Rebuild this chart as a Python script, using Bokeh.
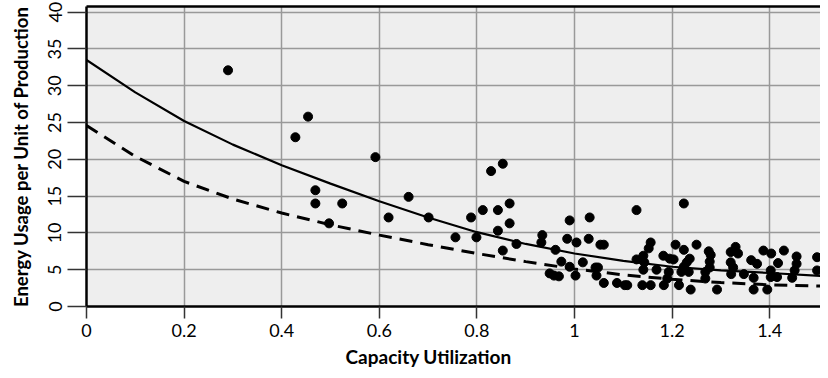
from bokeh.plotting import figure
from bokeh.models import Range1d, FixedTicker, LinearAxis, Title
from bokeh.embed import file_html
from bokeh.resources import INLINE

# Scatter observations (capacity utilization, energy usage per unit)
util = [0.290, 0.454, 0.428, 0.469, 0.469, 0.524, 0.497, 0.592, 0.660, 0.619,
        0.701, 0.756, 0.788, 0.799, 0.812, 0.829, 0.853, 0.843, 0.867, 0.843,
        0.867, 0.853, 0.881,
        0.990, 1.031, 0.934, 0.932, 0.985, 1.004, 1.029, 1.053, 1.060, 0.961,
        0.973, 0.990, 1.017, 1.043, 1.048, 0.949, 0.958, 0.968, 1.002, 1.045,
        1.060, 1.087, 1.103,
        1.127, 1.224, 1.156, 1.152, 1.141, 1.127, 1.143, 1.141, 1.168, 1.182,
        1.195, 1.203, 1.207, 1.224, 1.250, 1.236, 1.230, 1.224, 1.219, 1.234,
        1.193, 1.190, 1.108, 1.139, 1.156, 1.183, 1.214, 1.238, 1.275, 1.279,
        1.277, 1.277, 1.268, 1.268, 1.292,
        1.330, 1.320, 1.335, 1.320, 1.325, 1.321, 1.347, 1.362, 1.374, 1.387,
        1.403, 1.417, 1.402, 1.402, 1.415, 1.367, 1.367, 1.395, 1.429, 1.455,
        1.455, 1.451, 1.446, 1.497, 1.497]
energy = [32.1, 25.8, 23.0, 15.8, 14.0, 14.0, 11.3, 20.3, 14.9, 12.1,
          12.1, 9.4, 12.1, 9.4, 13.1, 18.4, 19.4, 13.1, 14.0, 10.3,
          11.3, 7.6, 8.5,
          11.7, 12.1, 9.7, 8.7, 9.2, 8.7, 9.2, 8.4, 8.4, 7.7,
          6.1, 5.4, 6.0, 5.3, 5.3, 4.5, 4.2, 4.1, 4.2, 4.2,
          3.2, 3.2, 2.9,
          13.1, 14.0, 8.7, 7.9, 6.9, 6.4, 6.0, 5.0, 5.0, 6.9,
          6.5, 6.4, 8.4, 7.7, 8.4, 6.5, 6.0, 5.4, 4.7, 4.7,
          4.7, 3.8, 2.9, 2.9, 2.9, 2.9, 2.9, 2.3, 7.5, 7.0,
          6.1, 5.3, 4.7, 3.8, 2.3,
          8.1, 7.4, 7.2, 6.0, 5.3, 4.4, 4.4, 6.3, 5.8, 7.6,
          7.2, 5.9, 4.9, 4.0, 4.0, 3.9, 2.3, 2.3, 7.6, 6.8,
          5.8, 4.9, 3.9, 6.7, 4.9]

# Fitted curves
curve_x = [0.0, 0.1, 0.2, 0.3, 0.4, 0.5, 0.6, 0.7, 0.8, 0.9, 1.0, 1.1, 1.2, 1.3, 1.4, 1.52]
solid_y = [33.5, 29.1, 25.2, 22.0, 19.2, 16.7, 14.3, 12.1, 10.1, 8.5, 7.2, 6.2, 5.4, 4.9, 4.55, 4.1]
dashed_y = [24.6, 20.4, 17.0, 14.6, 12.7, 11.1, 9.7, 8.4, 7.2, 6.1, 5.1, 4.3, 3.7, 3.25, 2.95, 2.75]

x_ticks = [0, 0.2, 0.4, 0.6, 0.8, 1, 1.2, 1.4]
y_ticks = [0, 5, 10, 15, 20, 25, 30, 35, 40]

FONT = "Lato"

p = figure(width=820, height=370, x_range=Range1d(0, 1.504), y_range=Range1d(0, 40.77),
           output_backend="svg", toolbar_location=None,
           min_border_left=86, min_border_right=0, min_border_top=6, min_border_bottom=64,
           background_fill_color="#eeeeee", border_fill_color="white")
p.outline_line_color = None

p.xgrid.ticker = FixedTicker(ticks=x_ticks)
p.ygrid.ticker = FixedTicker(ticks=y_ticks)
for g in (p.xgrid, p.ygrid):
    g.grid_line_color = "#999999"
    g.grid_line_width = 1.5

p.line(curve_x, solid_y, line_color="black", line_width=2.2)
p.line(curve_x, dashed_y, line_color="black", line_width=3, line_dash="13 8")
p.scatter(util, energy, size=9, fill_color="black", line_color="black")

xa = p.xaxis[0]
xa.ticker = FixedTicker(ticks=x_ticks)
xa.major_label_overrides = {t: f"{t:g}" for t in x_ticks}
ya = p.yaxis[0]
ya.ticker = FixedTicker(ticks=y_ticks)
ya.major_label_orientation = "vertical"

for ax in (xa, ya):
    ax.axis_line_color = "black"
    ax.axis_line_width = 2.5
    ax.major_tick_line_color = "#333333"
    ax.major_tick_line_width = 1.5
    ax.major_tick_in = 0
    ax.minor_tick_line_color = None
    ax.major_label_text_font = FONT
    ax.major_label_text_font_size = "18px"
    ax.major_label_text_color = "black"
xa.major_tick_out = 12
xa.major_label_standoff = 5
ya.major_tick_out = 19
ya.major_label_standoff = 6

ya.axis_label = "Energy Usage per Unit of Production"
ya.axis_label_text_font = FONT
ya.axis_label_text_font_style = "bold"
ya.axis_label_text_font_size = "18.5px"
ya.axis_label_text_color = "black"
ya.axis_label_standoff = 14

top = LinearAxis(ticker=FixedTicker(ticks=[]), axis_line_width=2.5, axis_line_color="black",
                 major_tick_out=0, major_tick_in=0, minor_tick_out=0, minor_tick_in=0,
                 major_label_text_font_size="0px", major_label_standoff=0)
p.add_layout(top, "above")

xt = Title(text="Capacity Utilization", align="left", offset=259,
           text_font=FONT, text_font_style="bold", text_font_size="19px",
           text_color="black", standoff=6)
p.add_layout(xt, "below")

open("out.html", "w").write(file_html(p, INLINE))
